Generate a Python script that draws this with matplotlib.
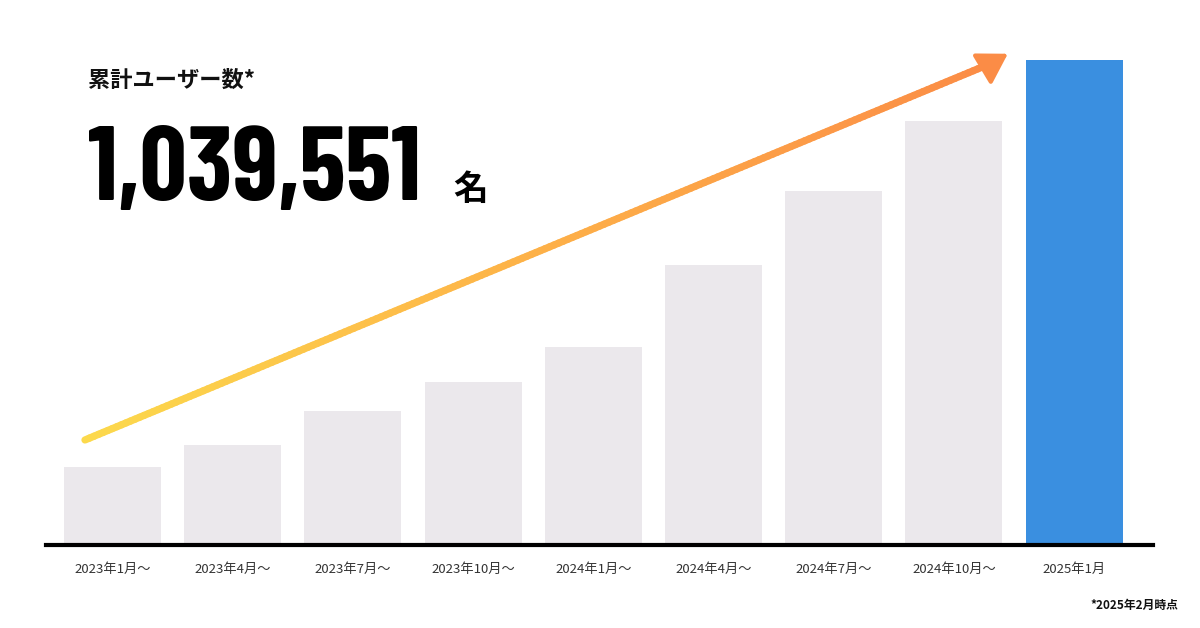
import numpy as np
import matplotlib.pyplot as plt
from matplotlib.collections import LineCollection
from matplotlib.colors import LinearSegmentedColormap

plt.rcParams['font.family'] = ['Noto Sans CJK JP', 'DejaVu Sans']

# data (cumulative users)
periods = ["2023年1月～", "2023年4月～", "2023年7月～", "2023年10月～", "2024年1月～",
           "2024年4月～", "2024年7月～", "2024年10月～", "2025年1月"]
users = [167000, 214000, 287000, 349000, 424000, 600000, 759000, 909000, 1039551]
bar_colors = ["#ebe8ec"] * 8 + ["#3a8fe0"]

W, H = 1200, 628
fig = plt.figure(figsize=(W / 100, H / 100), dpi=100)
# axes: left 46px, right 1153px, baseline 545px from top
ax = fig.add_axes([46 / W, 83 / H, 1107 / W, 545 / H])
x = np.arange(len(users))
ax.bar(x, users, width=0.806, color=bar_colors, zorder=2)
ax.set_xlim(-0.553, 8.656)
ax.set_ylim(0, users[-1] * 545 / 485)

for s in ["top", "left", "right"]:
    ax.spines[s].set_visible(False)
ax.spines["bottom"].set_linewidth(3)
ax.spines["bottom"].set_color("#000000")
ax.set_yticks([])
ax.set_xticks(x)
ax.set_xticklabels(periods, fontsize=9.5, color="#333333")
ax.tick_params(axis="x", length=0, pad=13)

# gradient arrow (axes fraction coords)
x0, y0 = 0.0352, 0.1927
x1, y1 = 0.854, 0.884
n = 200
t = np.linspace(0, 1, n)
px = x0 + (x1 - x0) * t
py = y0 + (y1 - y0) * t
pts = np.array([px, py]).T.reshape(-1, 1, 2)
segs = np.concatenate([pts[:-1], pts[1:]], axis=1)
cmap = LinearSegmentedColormap.from_list("arr", ["#fcd94c", "#fdb148", "#fb8c46"])
lc = LineCollection(segs, cmap=cmap, linewidths=5.2, capstyle="round",
                    transform=ax.transAxes, zorder=3)
lc.set_array(t[:-1])
ax.add_collection(lc)
ax.annotate("", xy=(0.871, 0.904), xytext=(0.848, 0.876),
            xycoords=ax.transAxes, textcoords=ax.transAxes,
            arrowprops=dict(arrowstyle="-|>,head_length=0.9,head_width=0.55",
                            color="#fb8c46", lw=3, mutation_scale=20,
                            joinstyle="round", capstyle="round"),
            zorder=4)

# headline texts
fig.text(88 / W, 1 - 80 / H, "累計ユーザー数*", fontsize=16, fontweight="bold",
         color="#111111", va="center", ha="left")
fig.text(88 / W, 1 - 200 / H, "1,039,551",
         family=["Barlow Condensed", "DejaVu Sans"], fontsize=75,
         fontweight="bold", color="#000000", va="baseline", ha="left")
fig.text(453 / W, 1 - 200 / H, "名", fontsize=25, fontweight="bold",
         color="#000000", va="baseline", ha="left")
fig.text(1178 / W, 1 - 605 / H, "*2025年2月時点", fontsize=8.5, fontweight="bold",
         color="#111111", va="center", ha="right")

fig.savefig("out.png", dpi=100)
